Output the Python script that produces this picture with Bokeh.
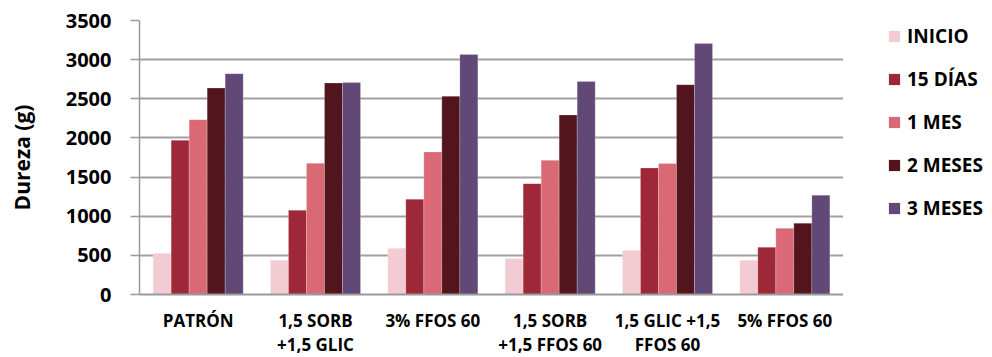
from bokeh.plotting import figure
from bokeh.layouts import row
from bokeh.models import (FactorRange, Range1d, FixedTicker, Legend, LegendItem)
from bokeh.transform import dodge
from bokeh.embed import file_html
from bokeh.resources import INLINE

# Hardness (g) of each formulation over storage time
categories = ["PATRÓN", "1,5 SORB\n+1,5 GLIC", "3% FFOS 60",
              "1,5 SORB\n+1,5 FFOS 60", "1,5 GLIC +1,5\nFFOS 60", "5% FFOS 60"]
series_names = ["INICIO", "15 DÍAS", "1 MES", "2 MESES", "3 MESES"]

inicio = [527, 438, 591, 459, 566, 438]
dias15 = [1969, 1076, 1217, 1416, 1616, 604]
mes1 = [2233, 1676, 1820, 1714, 1672, 846]
meses2 = [2637, 2701, 2531, 2293, 2680, 910]
meses3 = [2820, 2709, 3067, 2722, 3207, 1268]

y_ticks = [0, 500, 1000, 1500, 2000, 2500, 3000, 3500]

colors = ["#F2CCD2", "#9E2838", "#D96A75", "#52151D", "#614876"]
series_values = [inicio, dias15, mes1, meses2, meses3]

FONT = "Open Sans"

p = figure(frame_width=704, frame_height=274,
           x_range=FactorRange(*categories, range_padding=0),
           y_range=Range1d(0, 3500), output_backend="svg", toolbar_location=None,
           min_border_left=139, min_border_right=0, min_border_top=20,
           min_border_bottom=40)
p.outline_line_color = None
p.background_fill_color = "white"

bar_w = 0.1535
source_data = {"cat": categories}
for name, vals in zip(series_names, series_values):
    source_data[name] = vals

for i, (name, col) in enumerate(zip(series_names, colors)):
    off = (i - 2) * bar_w
    p.vbar(x=dodge("cat", off, range=p.x_range), top=name, width=bar_w,
           source=source_data, fill_color=col, line_color="white",
           line_alpha=0.35, line_width=0.6)

# Grid
p.xgrid.grid_line_color = None
p.ygrid.grid_line_color = "#A0A0A0"
p.ygrid.grid_line_width = 2
p.yaxis.ticker = FixedTicker(ticks=y_ticks)

# Y axis
p.yaxis.axis_line_color = "#9A9A9A"
p.yaxis.axis_line_width = 1.5
p.yaxis.major_tick_line_color = "#9A9A9A"
p.yaxis.major_tick_line_width = 1.5
p.yaxis.major_tick_out = 9
p.yaxis.major_tick_in = 0
p.yaxis.minor_tick_line_color = None
p.yaxis.major_label_standoff = 19
p.yaxis.major_label_text_font = FONT
p.yaxis.major_label_text_font_style = "bold"
p.yaxis.major_label_text_font_size = "20px"
p.yaxis.major_label_text_color = "black"
p.yaxis.axis_label = "Dureza (g)"
p.yaxis.axis_label_text_font = FONT
p.yaxis.axis_label_text_font_style = "bold"
p.yaxis.axis_label_text_font_size = "21px"
p.yaxis.axis_label_text_color = "black"
p.yaxis.axis_label_standoff = 27

# X axis
p.xaxis.axis_line_color = "#9A9A9A"
p.xaxis.axis_line_width = 2
p.xaxis.major_tick_line_color = None
p.xaxis.minor_tick_line_color = None
p.xaxis.major_label_standoff = 8
p.xaxis.major_label_text_font = FONT
p.xaxis.major_label_text_font_style = "bold"
p.xaxis.major_label_text_font_size = "17px"
p.xaxis.major_label_text_color = "black"
p.xaxis.major_label_text_line_height = 1.08

# Legend panel to the right of the chart
lg = figure(width=149, height=357, x_range=Range1d(0, 1), y_range=Range1d(0, 1),
            output_backend="svg", toolbar_location=None, min_border=0)
lg.axis.visible = False
lg.grid.visible = False
lg.outline_line_color = None
swatches = []
for col in colors:
    # zero-height bar off-screen, only used to draw the legend swatch
    swatches.append(lg.vbar(x=[-5], top=[0], width=0.1, fill_color=col, line_color=None))

legend = Legend(items=[LegendItem(label=n, renderers=[r]) for n, r in zip(series_names, swatches)],
                location=(44, 71), orientation="vertical")
legend.glyph_width = 14
legend.glyph_height = 14
legend.label_standoff = 6
legend.label_height = 20
legend.spacing = 17
legend.padding = 0
legend.margin = 0
legend.border_line_color = None
legend.background_fill_alpha = 0
legend.label_text_font = FONT
legend.label_text_font_style = "bold"
legend.label_text_font_size = "19px"
legend.label_text_color = "black"
lg.add_layout(legend, "center")

layout = row(p, lg, spacing=0)
open("out.html", "w").write(file_html(layout, INLINE))
